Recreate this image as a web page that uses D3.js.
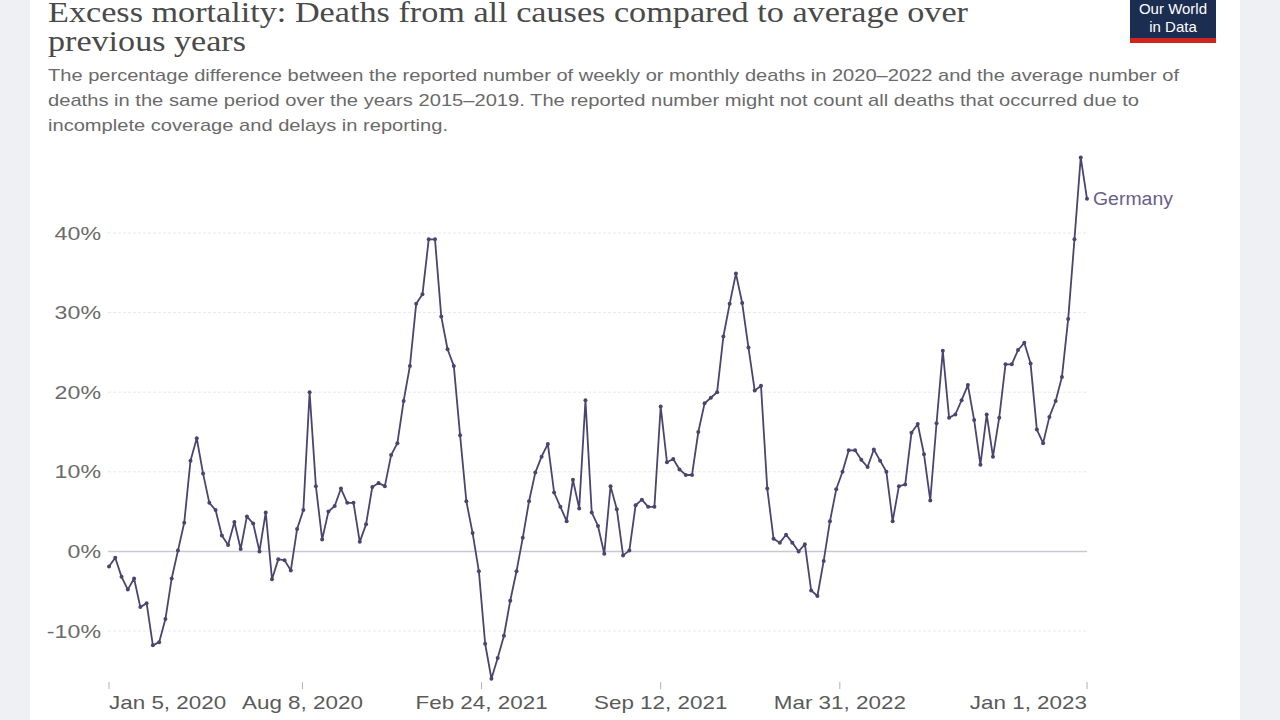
<!DOCTYPE html>
<html>
<head>
<meta charset="utf-8">
<script src="https://cdn.jsdelivr.net/npm/d3@7"></script>
<style>
  html, body { margin: 0; padding: 0; background: #eef0f4; }
  svg { display: block; }
</style>
</head>
<body>
<svg id="chart" width="1280" height="720"></svg>
<script>
// Excess mortality, Germany, weekly P-scores
const startDate = new Date(2020, 0, 5);
const germany = [
  -1.9, -0.8, -3.2, -4.8, -3.4, -7.0, -6.5, -11.8, -11.4, -8.5,
  -3.4, 0.1, 3.6, 11.4, 14.2, 9.8, 6.1, 5.2, 2.0, 0.8,
  3.7, 0.3, 4.4, 3.5, 0.0, 4.9, -3.5, -1.0, -1.1, -2.4,
  2.8, 5.2, 20.0, 8.2, 1.5, 5.0, 5.7, 7.9, 6.1, 6.1,
  1.2, 3.4, 8.1, 8.6, 8.2, 12.1, 13.6, 18.9, 23.3, 31.1,
  32.3, 39.2, 39.2, 29.5, 25.4, 23.3, 14.6, 6.3, 2.3, -2.5,
  -11.6, -16.0, -13.4, -10.6, -6.2, -2.5, 1.7, 6.3, 9.9, 11.9,
  13.5, 7.4, 5.6, 3.8, 9.0, 5.4, 19.0, 4.9, 3.2, -0.3,
  8.2, 5.3, -0.5, 0.1, 5.8, 6.5, 5.6, 5.6, 18.2, 11.2,
  11.6, 10.3, 9.6, 9.6, 15.0, 18.6, 19.3, 20.0, 27.0, 31.1,
  34.9, 31.2, 25.6, 20.2, 20.8, 7.9, 1.6, 1.1, 2.1, 1.1,
  0.0, 0.9, -4.9, -5.6, -1.2, 3.8, 7.8, 10.0, 12.7, 12.7,
  11.5, 10.6, 12.8, 11.4, 10.0, 3.8, 8.2, 8.4, 14.9, 16.0,
  12.2, 6.4, 16.1, 25.2, 16.8, 17.2, 19.0, 20.9, 16.5, 10.9,
  17.2, 11.9, 16.8, 23.5, 23.5, 25.3, 26.2, 23.6, 15.3, 13.6,
  16.9, 18.9, 21.9, 29.2, 39.2, 49.5, 44.3
];
const yTicks = [-10, 0, 10, 20, 30, 40];
const xTickDates = [
  new Date(2020, 0, 5), new Date(2020, 7, 8), new Date(2021, 1, 24),
  new Date(2021, 8, 12), new Date(2022, 2, 31), new Date(2023, 0, 1)
];
const xTickLabels = ["Jan 5, 2020", "Aug 8, 2020", "Feb 24, 2021", "Sep 12, 2021", "Mar 31, 2022", "Jan 1, 2023"];

const titleLines = ["Excess mortality: Deaths from all causes compared to average over", "previous years"];
const subtitleLines = [
  "The percentage difference between the reported number of weekly or monthly deaths in 2020\u20132022 and the average number of",
  "deaths in the same period over the years 2015\u20132019. The reported number might not count all deaths that occurred due to",
  "incomplete coverage and delays in reporting."
];

const data = germany.map((v, i) => ({ date: d3.timeDay.offset(startDate, 7 * i), value: v }));

const svg = d3.select("#chart");
const lineColor = "#4b4470";
const sans = "'Liberation Sans', Arial, sans-serif";

// the screenshot is a bit wider than normal text, so stretch labels
function stretch(sel, k) {
  sel.each(function () {
    const w = this.getComputedTextLength();
    d3.select(this).attr("textLength", w * k).attr("lengthAdjust", "spacingAndGlyphs");
  });
}

// white card
svg.append("rect")
  .attr("x", 30).attr("y", 0).attr("width", 1210).attr("height", 720)
  .attr("fill", "#ffffff");

// title
const titleWidths = [920, 198];
svg.selectAll("text.title")
  .data(titleLines)
  .join("text")
  .attr("class", "title")
  .attr("x", 48)
  .attr("y", (d, i) => 22 + i * 29)
  .attr("font-family", "'Liberation Serif', 'DejaVu Serif', serif")
  .attr("font-size", "30px")
  .attr("fill", "#4a4a4a")
  .attr("textLength", (d, i) => titleWidths[i])
  .attr("lengthAdjust", "spacingAndGlyphs")
  .text(d => d);

// subtitle
const subWidths = [1131, 1091, 400];
svg.selectAll("text.subtitle")
  .data(subtitleLines)
  .join("text")
  .attr("class", "subtitle")
  .attr("x", 48)
  .attr("y", (d, i) => 81 + i * 25)
  .attr("font-family", sans)
  .attr("font-size", "17px")
  .attr("fill", "#6a6a6a")
  .attr("textLength", (d, i) => subWidths[i])
  .attr("lengthAdjust", "spacingAndGlyphs")
  .text(d => d);

// logo
const logo = svg.append("g").attr("transform", "translate(1130,0)");
logo.append("rect").attr("width", 86).attr("height", 43).attr("fill", "#1b2d50");
logo.append("rect").attr("y", 38).attr("width", 86).attr("height", 5).attr("fill", "#ce261e");
logo.append("text").attr("x", 43).attr("y", 14).attr("text-anchor", "middle")
  .attr("font-family", sans).attr("font-size", "15px")
  .attr("fill", "#ffffff").text("Our World");
logo.append("text").attr("x", 43).attr("y", 32).attr("text-anchor", "middle")
  .attr("font-family", sans).attr("font-size", "15px")
  .attr("fill", "#ffffff").text("in Data");

// scales
const x = d3.scaleTime()
  .domain([startDate, new Date(2023, 0, 1)])
  .range([109, 1087]);
const y = d3.scaleLinear().domain([-10, 40]).range([631, 233]);

// gridlines
svg.append("g")
  .selectAll("line")
  .data(yTicks)
  .join("line")
  .attr("x1", 108).attr("x2", 1087)
  .attr("y1", d => y(d)).attr("y2", d => y(d))
  .attr("stroke", d => d === 0 ? "#c9c9d3" : "#e8e8e8")
  .attr("stroke-width", d => d === 0 ? 1.5 : 1)
  .attr("stroke-dasharray", d => d === 0 ? null : "3,2");

// y labels
svg.append("g")
  .selectAll("text")
  .data(yTicks)
  .join("text")
  .attr("x", 101)
  .attr("y", d => y(d))
  .attr("dy", "0.35em")
  .attr("text-anchor", "end")
  .attr("font-family", sans)
  .attr("font-size", "19px")
  .attr("fill", "#6b6b6b")
  .text(d => d + "%")
  .call(stretch, 1.22);

// x ticks
const xAxis = svg.append("g");
xAxis.selectAll("line")
  .data(xTickDates)
  .join("line")
  .attr("x1", d => x(d)).attr("x2", d => x(d))
  .attr("y1", 682).attr("y2", 689)
  .attr("stroke", "#b0b0b0");
xAxis.selectAll("text")
  .data(xTickDates)
  .join("text")
  .attr("x", d => x(d))
  .attr("y", 709)
  .attr("text-anchor", (d, i) => i === 0 ? "start" : i === xTickDates.length - 1 ? "end" : "middle")
  .attr("font-family", sans)
  .attr("font-size", "19px")
  .attr("fill", "#5a5a5a")
  .text((d, i) => xTickLabels[i])
  .call(stretch, 1.18);

// line
svg.append("path")
  .datum(data)
  .attr("d", d3.line().x(d => x(d.date)).y(d => y(d.value)))
  .attr("fill", "none")
  .attr("stroke", lineColor)
  .attr("stroke-width", 1.8)
  .attr("stroke-linejoin", "round");

svg.append("g")
  .selectAll("circle")
  .data(data)
  .join("circle")
  .attr("cx", d => x(d.date))
  .attr("cy", d => y(d.value))
  .attr("r", 2)
  .attr("fill", lineColor);

// series label
const last = data[data.length - 1];
svg.append("text")
  .attr("x", x(last.date) + 6)
  .attr("y", y(last.value))
  .attr("dy", "0.35em")
  .attr("font-family", sans)
  .attr("font-size", "18px")
  .attr("fill", "#6a5d8c")
  .text("Germany")
  .call(stretch, 1.08);
</script>
</body>
</html>
